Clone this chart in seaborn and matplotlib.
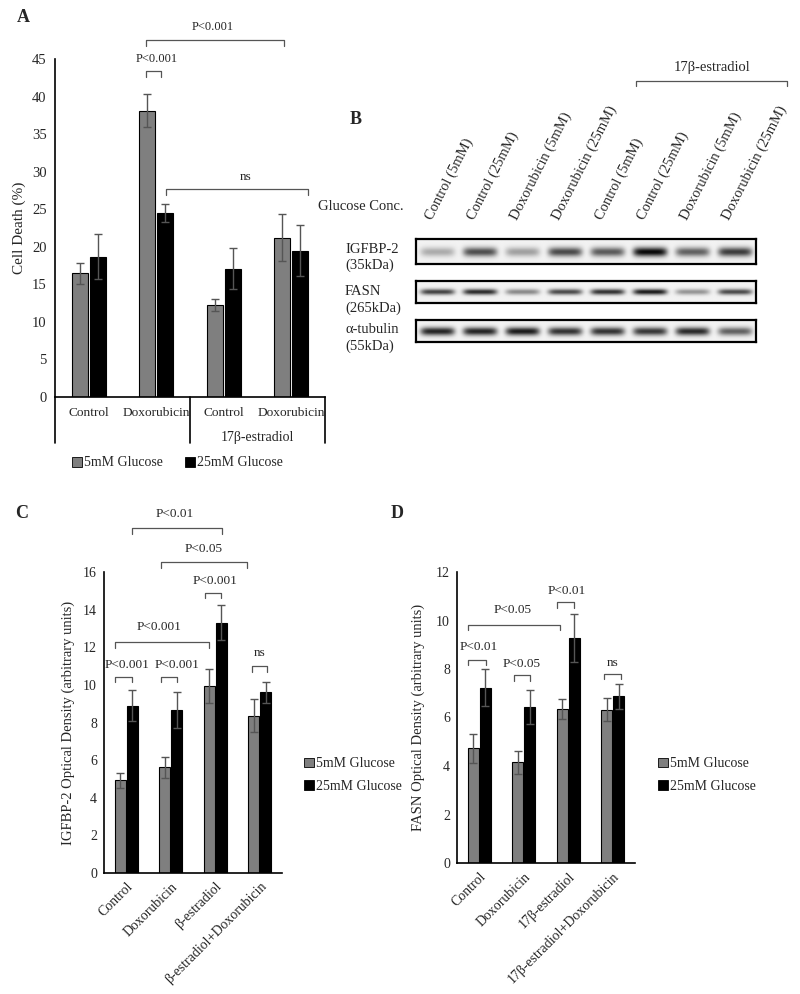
import numpy as np
import pandas as pd
import matplotlib.pyplot as plt
import seaborn as sns
from matplotlib.patches import Patch
from matplotlib.lines import Line2D

sns.set_theme(style="white")
plt.rcParams['font.family'] = ['Liberation Serif', 'DejaVu Serif']
plt.rcParams['font.size'] = 10

glucose = ["5mM Glucose", "25mM Glucose"]
colors = ["#7f7f7f", "#000000"]
err_color = "#555555"
line_color = "#555555"

# Panel A - cell death
cats_a = ["Control", "Doxorubicin", "E2 Control", "E2 Doxorubicin"]
ticks_a = ["Control", "Doxorubicin", "Control", "Doxorubicin"]
death_5 = [16.5, 38.1, 12.3, 21.2]
death_25 = [18.7, 24.5, 17.1, 19.5]
death_5_err = [1.4, 2.2, 0.8, 3.1]
death_25_err = [3.0, 1.2, 2.7, 3.4]

# Panel B - western blot band strength (0-1)
lanes = ["Control (5mM)", "Control (25mM)", "Doxorubicin (5mM)", "Doxorubicin (25mM)",
         "Control (5mM)", "Control (25mM)", "Doxorubicin (5mM)", "Doxorubicin (25mM)"]
igfbp_band = [0.30, 0.70, 0.35, 0.72, 0.65, 1.00, 0.62, 0.78]
fasn_band = [0.75, 0.85, 0.45, 0.72, 0.82, 0.92, 0.40, 0.72]
tubulin_band = [0.88, 0.88, 0.92, 0.82, 0.82, 0.80, 0.86, 0.62]

# Panel C - IGFBP-2
ticks_c = ["Control", "Doxorubicin", "β-estradiol", "β-estradiol+Doxorubicin"]
igfbp_5 = [4.94, 5.61, 9.95, 8.37]
igfbp_25 = [8.90, 8.67, 13.30, 9.60]
igfbp_5_err = [0.40, 0.58, 0.90, 0.86]
igfbp_25_err = [0.82, 0.95, 0.93, 0.56]

# Panel D - FASN
ticks_d = ["Control", "Doxorubicin", "17β-estradiol", "17β-estradiol+Doxorubicin"]
fasn_5 = [4.74, 4.15, 6.35, 6.32]
fasn_25 = [7.22, 6.43, 9.28, 6.87]
fasn_5_err = [0.60, 0.46, 0.42, 0.47]
fasn_25_err = [0.76, 0.70, 1.00, 0.53]

W, H = 800, 994
fig = plt.figure(figsize=(8, 9.94), dpi=100)


def box(x0, y0, x1, y1):
    # pixel box (top-left origin) -> figure fraction rect
    return [x0 / W, 1 - y1 / H, (x1 - x0) / W, (y1 - y0) / H]


def bars(ax, cats, v5, v25, e5, e25, gap):
    df = pd.DataFrame({
        "cat": cats + cats,
        "glucose": [glucose[0]] * len(cats) + [glucose[1]] * len(cats),
        "val": v5 + v25,
    })
    sns.barplot(data=df, x="cat", y="val", hue="glucose", palette=colors,
                width=0.53, gap=gap, edgecolor="black", linewidth=0.8,
                errorbar=None, legend=False, ax=ax)
    for cont, errs in zip(ax.containers, [e5, e25]):
        for bar, e in zip(cont, errs):
            ax.errorbar(bar.get_x() + bar.get_width() / 2, bar.get_height(), yerr=e,
                        color=err_color, capsize=3, lw=1, capthick=1)
    ax.set_xlim(-0.5, len(cats) - 0.5)
    for s in ["top", "right"]:
        ax.spines[s].set_visible(False)
    for s in ["left", "bottom"]:
        ax.spines[s].set_color("black")
        ax.spines[s].set_linewidth(1.2)
    ax.tick_params(length=0)
    ax.set_xlabel("")


def bracket(ax, x1, x2, y, drop, tx, ty, label, fs):
    ax.plot([x1, x1, x2, x2], [y - drop, y, y, y - drop], color=line_color, lw=0.9, clip_on=False)
    ax.text(tx, ty, label, ha="center", va="center", fontsize=fs, clip_on=False)


def legend_handles():
    return [Patch(facecolor=c, edgecolor="black", linewidth=0.6) for c in colors]


# ---------------- Panel A ----------------
ax_a = fig.add_axes(box(55, 59, 325, 397))
bars(ax_a, cats_a, death_5, death_25, death_5_err, death_25_err, gap=0.12)
ax_a.set_ylim(0, 45)
ax_a.set_yticks(range(0, 46, 5))
ax_a.set_xticks(range(4), ticks_a)
ax_a.tick_params(axis="x", pad=7, labelsize=9.6)
ax_a.tick_params(axis="y", labelsize=10.5, pad=6)
ax_a.set_ylabel("Cell Death (%)", fontsize=11, labelpad=4)
xt = ax_a.get_xaxis_transform()
for xs in [-0.5, 1.5, 3.5]:
    ax_a.plot([xs, xs], [0, -46 / 338], color="black", lw=1.2, transform=xt, clip_on=False)
ax_a.text(2.5, -40 / 338, "17β-estradiol", transform=xt, ha="center", va="center", fontsize=10)
bracket(ax_a, 0.85, 2.89, 47.5, 0.75, 1.84, 49.2, "P<0.001", 9)
bracket(ax_a, 0.85, 1.07, 43.4, 0.75, 1.01, 45.0, "P<0.001", 9)
bracket(ax_a, 1.14, 3.25, 27.7, 0.8, 2.33, 29.3, "ns", 9.5)
fig.legend(legend_handles(), glucose, loc="center left", bbox_to_anchor=(72 / W, 1 - 463 / H),
           ncol=2, frameon=False, fontsize=10, handlelength=0.7, handleheight=0.7,
           handletextpad=0.15, columnspacing=1.6, borderpad=0, borderaxespad=0)
fig.text(23 / W, 1 - 17 / H, "A", fontsize=13, fontweight="bold", ha="center", va="center")

# ---------------- Panel B ----------------
fig.text(356 / W, 1 - 120 / H, "B", fontsize=13, fontweight="bold", ha="center", va="center")


def blot(ax, levels, sigma, dy=0.0):
    bw, bh = 400, 30
    xs = np.arange(bw)
    ys = np.arange(bh)
    img = np.zeros((bh, bw))
    lw = bw / len(levels)
    for i, lv in enumerate(levels):
        cx = (i + 0.5) * lw
        px = np.exp(-((xs - cx) / (0.40 * lw)) ** 6)
        py = np.exp(-((ys - bh / 2 - dy) / sigma) ** 2)
        img += lv * np.outer(py, px)
    ax.imshow(0.95 - 0.92 * np.clip(img, 0, 1), cmap="gray", vmin=0, vmax=1, aspect="auto")
    ax.set_xticks([])
    ax.set_yticks([])
    for s in ax.spines.values():
        s.set_color("black")
        s.set_linewidth(1.6)
        s.set_visible(True)


ax_b1 = fig.add_axes(box(416, 239, 756, 264))
blot(ax_b1, igfbp_band, 5.5)
ax_b2 = fig.add_axes(box(416, 281, 756, 303))
blot(ax_b2, fasn_band, 3.8)
ax_b3 = fig.add_axes(box(416, 320, 756, 342))
blot(ax_b3, tubulin_band, 5.6)

for i, name in enumerate(lanes):
    ax_b1.text((i + 0.5) / len(lanes) - 0.008, 1 + 17 / 25, name, transform=ax_b1.transAxes,
               rotation=63, rotation_mode="anchor", ha="left", va="bottom", fontsize=10.5)
fig.text(318 / W, 1 - 207 / H, "Glucose Conc.", fontsize=10.5, ha="left", va="center")
for yc, label in [(257.5, "IGFBP-2\n(35kDa)"), (300, "FASN\n(265kDa)"), (338, "α-tubulin\n(55kDa)")]:
    fig.text(345 / W, 1 - yc / H, label, ha="left", va="center", fontsize=10.5, linespacing=1.25)
fig.add_artist(Line2D([636 / W, 636 / W, 787 / W, 787 / W],
                      [1 - 86 / H, 1 - 81 / H, 1 - 81 / H, 1 - 86 / H],
                      color=line_color, lw=0.9))
fig.text(712 / W, 1 - 68 / H, "17β-estradiol", fontsize=10.5, ha="center", va="center")

# ---------------- Panel C ----------------
ax_c = fig.add_axes(box(104, 572, 282, 873))
bars(ax_c, ticks_c, igfbp_5, igfbp_25, igfbp_5_err, igfbp_25_err, gap=0.05)
ax_c.set_ylim(0, 16)
ax_c.set_yticks(range(0, 17, 2))
ax_c.set_xticks(range(4), ticks_c, rotation=45, ha="right", rotation_mode="anchor")
ax_c.tick_params(axis="both", labelsize=10, pad=5)
ax_c.set_ylabel("IGFBP-2 Optical Density (arbitrary units)", fontsize=10.5, labelpad=6)
for args in [(0.14, 2.15, 18.35, 0.33, 1.10, 19.06, "P<0.01"),
             (0.78, 2.71, 16.54, 0.33, 1.74, 17.2, "P<0.05"),
             (1.77, 2.14, 14.9, 0.3, 2.0, 15.5, "P<0.001"),
             (-0.25, 1.86, 12.26, 0.3, 0.74, 13.07, "P<0.001"),
             (-0.25, 0.14, 10.44, 0.3, 0.01, 11.03, "P<0.001"),
             (0.78, 1.14, 10.44, 0.3, 1.15, 11.03, "P<0.001"),
             (2.82, 3.16, 10.98, 0.3, 2.99, 11.69, "ns")]:
    bracket(ax_c, *args, fs=9.5)
fig.legend(legend_handles(), glucose, loc="center left", bbox_to_anchor=(304 / W, 1 - 775 / H),
           ncol=1, frameon=False, fontsize=10, handlelength=0.7, handleheight=0.7,
           handletextpad=0.15, labelspacing=0.65, borderpad=0, borderaxespad=0)
fig.text(22 / W, 1 - 513 / H, "C", fontsize=13, fontweight="bold", ha="center", va="center")

# ---------------- Panel D ----------------
ax_d = fig.add_axes(box(457, 572, 635, 863))
bars(ax_d, ticks_d, fasn_5, fasn_25, fasn_5_err, fasn_25_err, gap=0.05)
ax_d.set_ylim(0, 12)
ax_d.set_yticks(range(0, 13, 2))
ax_d.set_xticks(range(4), ticks_d, rotation=45, ha="right", rotation_mode="anchor")
ax_d.tick_params(axis="both", labelsize=10, pad=5)
ax_d.set_ylabel("FASN Optical Density (arbitrary units)", fontsize=10.5, labelpad=8)
for args in [(-0.25, 0.145, 8.38, 0.22, -0.01, 8.89, "P<0.01"),
             (0.78, 1.136, 7.74, 0.22, 0.95, 8.22, "P<0.05"),
             (-0.25, 1.81, 9.83, 0.22, 0.74, 10.45, "P<0.05"),
             (1.75, 2.13, 10.75, 0.22, 1.96, 11.23, "P<0.01"),
             (2.80, 3.18, 7.81, 0.22, 2.99, 8.25, "ns")]:
    bracket(ax_d, *args, fs=9.5)
fig.legend(legend_handles(), glucose, loc="center left", bbox_to_anchor=(658 / W, 1 - 775 / H),
           ncol=1, frameon=False, fontsize=10, handlelength=0.7, handleheight=0.7,
           handletextpad=0.15, labelspacing=0.65, borderpad=0, borderaxespad=0)
fig.text(397 / W, 1 - 513 / H, "D", fontsize=13, fontweight="bold", ha="center", va="center")

fig.savefig("out.png", dpi=100)
